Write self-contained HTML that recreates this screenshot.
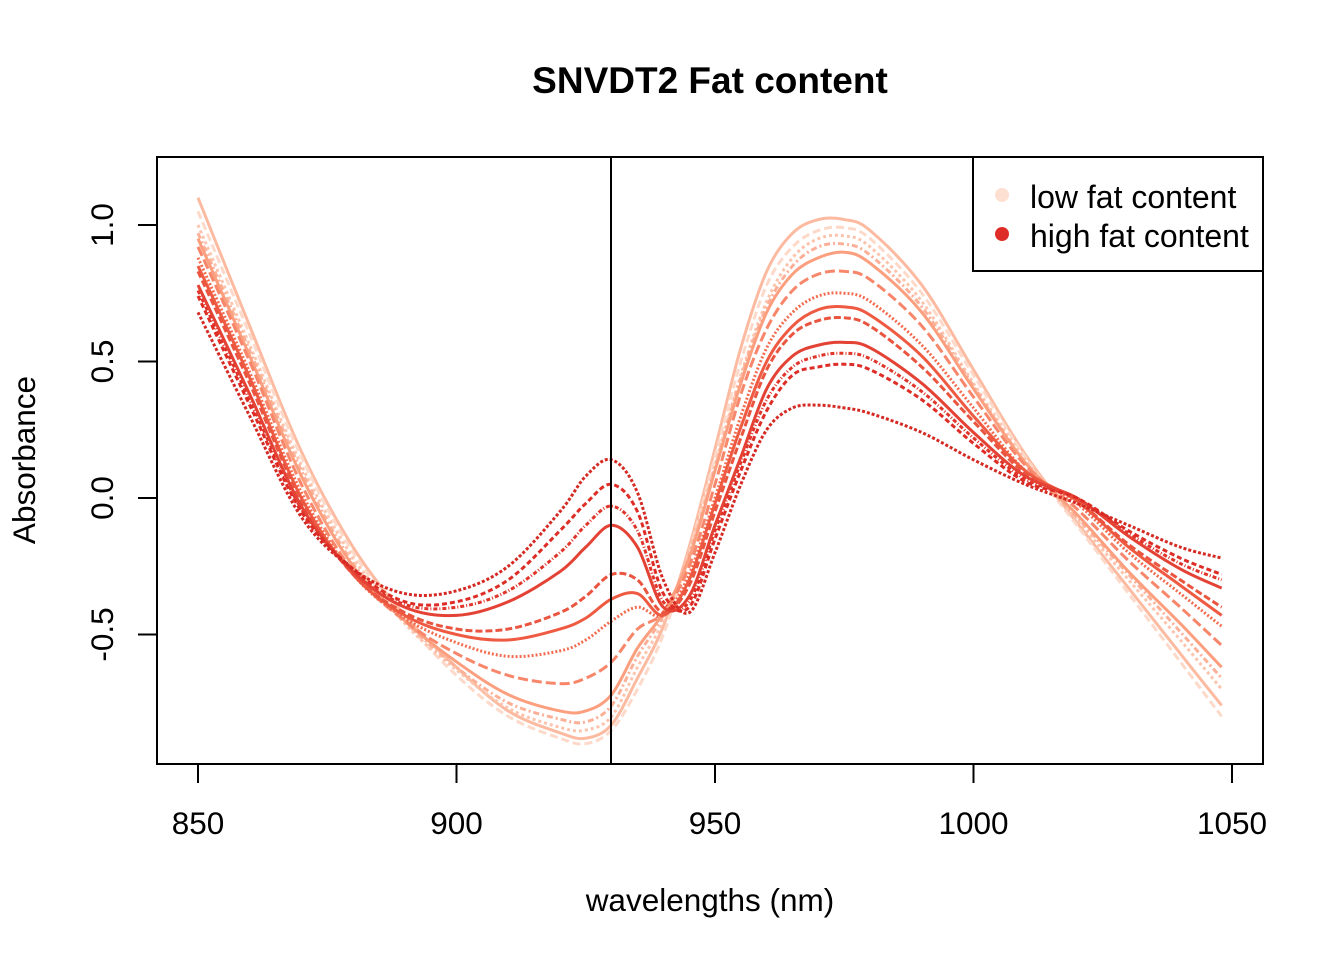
<!DOCTYPE html>
<html><head><meta charset="utf-8"><style>
body{margin:0;background:#fff;}
svg text{font-family:"Liberation Sans",Arial,sans-serif;}
</style></head><body>
<svg id="chart" width="1344" height="960" xmlns="http://www.w3.org/2000/svg">
<rect width="1344" height="960" fill="#fff"/>
<text x="710" y="93" font-size="37" font-weight="bold" text-anchor="middle">SNVDT2 Fat content</text>
<g id="lines"></g>
<line x1="611" y1="157" x2="611" y2="764" stroke="#000" stroke-width="2"/>
<rect x="157" y="157" width="1106" height="607" fill="none" stroke="#000" stroke-width="2"/>
<g id="xaxis"></g>
<g id="yaxis"></g>
<text x="710" y="911" font-size="31.5" text-anchor="middle">wavelengths (nm)</text>
<text transform="translate(35,460) rotate(-90)" font-size="31.5" text-anchor="middle">Absorbance</text>
<g>
<rect x="973" y="157" width="290" height="114" fill="#fff" stroke="#000" stroke-width="2"/>
<g><circle cx="1002" cy="195" r="7" fill="#fee0d2"/><text x="1030" y="208" font-size="32">low fat content</text></g>
<g><circle cx="1002" cy="234" r="7" fill="#de2d26"/><text x="1030" y="247" font-size="32">high fat content</text></g>
</g>
</svg>
<script>
const wavelengths=[850,860,870,880,890,900,910,920,925,930,935,940,945,950,955,960,965,970,975,980,990,1000,1010,1020,1030,1040,1048];
const seriesColors=["#fdd9c9","#fcc4ad","#fbb097","#fc9f7f","#f8866a","#f26c50","#ea5540","#e34234","#de2d26","#d42a23","#fcbba1","#ef5a42","#e0352a"];
const seriesValues=[
[1.05,0.6,0.15,-0.2,-0.45,-0.65,-0.8,-0.88,-0.9,-0.85,-0.7,-0.5,-0.2,0.15,0.5,0.78,0.92,0.98,0.99,0.95,0.75,0.45,0.15,-0.1,-0.35,-0.6,-0.8],
[1.0,0.56,0.12,-0.22,-0.46,-0.63,-0.77,-0.84,-0.85,-0.8,-0.62,-0.45,-0.2,0.12,0.45,0.72,0.88,0.95,0.96,0.92,0.72,0.42,0.14,-0.08,-0.3,-0.52,-0.7],
[0.97,0.54,0.1,-0.24,-0.45,-0.62,-0.75,-0.81,-0.82,-0.76,-0.58,-0.43,-0.21,0.11,0.44,0.7,0.85,0.92,0.93,0.89,0.7,0.41,0.13,-0.07,-0.28,-0.49,-0.66],
[0.95,0.52,0.08,-0.25,-0.45,-0.6,-0.72,-0.78,-0.78,-0.72,-0.55,-0.42,-0.22,0.1,0.42,0.68,0.82,0.88,0.9,0.86,0.68,0.4,0.13,-0.06,-0.27,-0.46,-0.62],
[0.92,0.5,0.05,-0.27,-0.45,-0.57,-0.65,-0.68,-0.66,-0.6,-0.48,-0.42,-0.25,0.05,0.38,0.62,0.76,0.82,0.83,0.8,0.63,0.37,0.12,-0.04,-0.23,-0.4,-0.54],
[0.88,0.46,0.02,-0.28,-0.44,-0.53,-0.58,-0.56,-0.52,-0.45,-0.4,-0.43,-0.28,0.0,0.3,0.55,0.68,0.74,0.75,0.72,0.56,0.33,0.1,-0.02,-0.2,-0.35,-0.47],
[0.83,0.42,-0.01,-0.28,-0.42,-0.48,-0.48,-0.42,-0.36,-0.28,-0.3,-0.42,-0.32,-0.05,0.22,0.47,0.6,0.65,0.66,0.63,0.48,0.28,0.09,-0.01,-0.17,-0.3,-0.4],
[0.78,0.38,-0.03,-0.27,-0.4,-0.43,-0.38,-0.27,-0.18,-0.1,-0.18,-0.4,-0.36,-0.1,0.15,0.4,0.52,0.56,0.57,0.55,0.42,0.24,0.08,0.0,-0.14,-0.26,-0.33],
[0.74,0.34,-0.05,-0.26,-0.38,-0.38,-0.3,-0.12,-0.02,0.05,-0.05,-0.35,-0.4,-0.15,0.1,0.32,0.45,0.48,0.49,0.47,0.36,0.2,0.06,0.0,-0.12,-0.22,-0.28],
[0.68,0.3,-0.07,-0.26,-0.35,-0.34,-0.25,-0.05,0.08,0.14,0.02,-0.3,-0.42,-0.2,0.05,0.25,0.33,0.34,0.33,0.31,0.24,0.14,0.05,-0.02,-0.1,-0.18,-0.22],
[1.1,0.63,0.17,-0.18,-0.43,-0.62,-0.78,-0.86,-0.88,-0.83,-0.66,-0.47,-0.18,0.18,0.55,0.83,0.97,1.02,1.02,0.98,0.78,0.47,0.16,-0.09,-0.33,-0.57,-0.76],
[0.85,0.44,0.0,-0.28,-0.43,-0.5,-0.52,-0.48,-0.44,-0.37,-0.35,-0.43,-0.3,-0.02,0.26,0.5,0.63,0.69,0.7,0.67,0.52,0.3,0.1,-0.01,-0.18,-0.32,-0.43],
[0.76,0.36,-0.04,-0.27,-0.39,-0.4,-0.34,-0.2,-0.1,-0.03,-0.12,-0.38,-0.38,-0.12,0.13,0.36,0.48,0.52,0.53,0.51,0.39,0.22,0.07,0.0,-0.13,-0.24,-0.3]
];
const xTicks=[850,900,950,1000,1050];
const yTicks=[-0.5,0.0,0.5,1.0];
const yTickLabels=["-0.5","0.0","0.5","1.0"];

const xs=v=>198+(v-850)*(1232-198)/200;
const ys=v=>498-v*273;
const NS="http://www.w3.org/2000/svg";
function smoothPath(pts){
  let d=`M${pts[0][0]},${pts[0][1]}`;
  for(let i=0;i<pts.length-1;i++){
    const p0=pts[i-1]||pts[i],p1=pts[i],p2=pts[i+1],p3=pts[i+2]||p2;
    const c1=[p1[0]+(p2[0]-p0[0])/6,p1[1]+(p2[1]-p0[1])/6];
    const c2=[p2[0]-(p3[0]-p1[0])/6,p2[1]-(p3[1]-p1[1])/6];
    d+=`C${c1[0]},${c1[1]} ${c2[0]},${c2[1]} ${p2[0]},${p2[1]}`;
  }
  return d;
}
const order=[10,0,1,2,3,4,5,11,6,12,7,8,9];
const dashes=["none","8,4","3,3","6,3,2,3","none","10,4","2,2","none","7,3","4,2,1,2","none","5,3","3,2"];
const g=document.getElementById('lines');
order.forEach((si,k)=>{
  const vals=seriesValues[si];
  const pts=wavelengths.map((w,i)=>[xs(w),ys(vals[i])]);
  const p=document.createElementNS(NS,'path');
  p.setAttribute('d',smoothPath(pts));
  p.setAttribute('fill','none');
  p.setAttribute('stroke',seriesColors[si]);
  p.setAttribute('stroke-width','3');
  p.setAttribute('stroke-dasharray',dashes[k]);
  
  
  g.appendChild(p);
});
const xa=document.getElementById('xaxis');
xTicks.forEach(t=>{
  const l=document.createElementNS(NS,'line');
  l.setAttribute('x1',xs(t));l.setAttribute('x2',xs(t));
  l.setAttribute('y1',764);l.setAttribute('y2',783);
  l.setAttribute('stroke','#000');l.setAttribute('stroke-width','2');
  
  
  xa.appendChild(l);
  const tx=document.createElementNS(NS,'text');
  tx.setAttribute('x',xs(t));tx.setAttribute('y',834);
  tx.setAttribute('font-size','31.5');tx.setAttribute('text-anchor','middle');
  tx.textContent=t;
  
  
  xa.appendChild(tx);
});
const ya=document.getElementById('yaxis');
yTicks.forEach((t,i)=>{
  const l=document.createElementNS(NS,'line');
  l.setAttribute('x1',138);l.setAttribute('x2',157);
  l.setAttribute('y1',ys(t));l.setAttribute('y2',ys(t));
  l.setAttribute('stroke','#000');l.setAttribute('stroke-width','2');
  
  
  ya.appendChild(l);
  const tx=document.createElementNS(NS,'text');
  tx.setAttribute('transform',`translate(113,${ys(t)}) rotate(-90)`);
  tx.setAttribute('font-size','31.5');tx.setAttribute('text-anchor','middle');
  tx.textContent=yTickLabels[i];
  
  
  ya.appendChild(tx);
});
</script>
</body></html>
